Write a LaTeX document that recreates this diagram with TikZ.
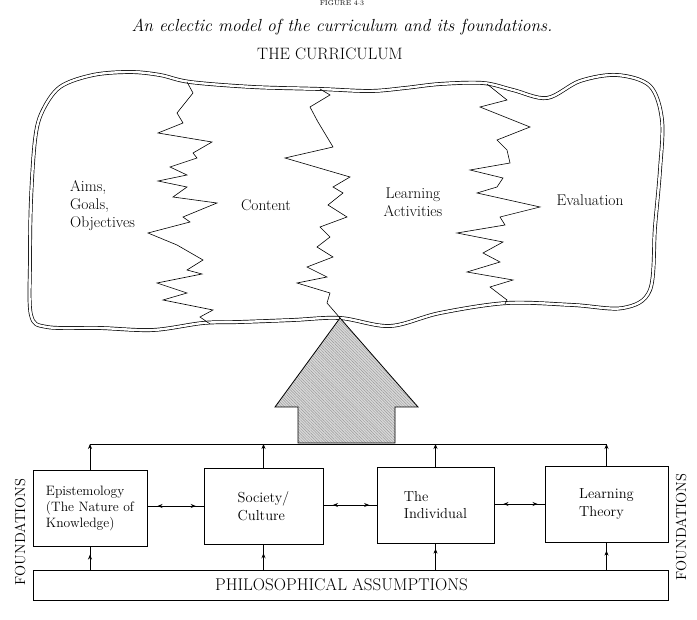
\documentclass[tikz,border=0pt]{standalone}
\usetikzlibrary{arrows.meta,decorations.markings,patterns.meta}
\begin{document}
\begin{tikzpicture}[x=1pt,y=-1pt,
  lbl/.style={font=\fontsize{15.5}{18}\selectfont, align=left, inner sep=0pt},
  fbox/.style={draw, line width=0.8pt, minimum height=76pt, inner sep=0pt, font=\fontsize{14.5}{17.5}\selectfont, align=left},
  conn/.style={line width=0.8pt},
  tip/.style={-{Stealth[length=5pt,width=4pt]}, line width=0.8pt},
  upmid/.style={line width=0.8pt, decoration={markings, mark=at position #1 with {\arrow{Stealth[length=5pt,width=4pt]}}}, postaction={decorate}},
  biarrow/.style={line width=0.8pt, decoration={markings,
      mark=at position 0.18 with {\arrowreversed{Stealth[length=5pt,width=4pt]}},
      mark=at position 0.86 with {\arrow{Stealth[length=5pt,width=4pt]}}}, postaction={decorate}},
  zig/.style={line width=0.6pt, line join=miter},
  cloudline/.style={draw, line width=0.7pt, double=white, double distance=2.4pt}
]
\useasboundingbox[fill=white] (0,0) rectangle (697,620);

% titles
\node[anchor=north, font=\fontsize{7}{8}\selectfont, inner sep=0.5pt] (fig) at (342,0) {FIGURE 4$\cdot$3};
\node[font=\fontsize{17.5}{20}\selectfont\itshape] (title) at (342,27) {An eclectic model of the curriculum and its foundations.};
\node[font=\fontsize{16.5}{18}\selectfont] (curr) at (330,54) {THE CURRICULUM};

% cloud
\draw[cloudline] plot[smooth cycle, tension=0.55] coordinates {
  (60,87) (93,75) (130,72) (160,75) (190,82) (253,87) (320,89) (370,91) (405,88) (440,84) (483,83)
  (513,90) (547,98) (580,81) (617,75) (650,86) (662,120) (660,170) (655,227)
  (650,290) (623,308) (573,305) (507,303) (440,313) (390,326) (340,318)
  (293,320) (240,322) (203,323) (153,330) (100,328) (47,327) (31,315)
  (30,260) (31,200) (35,140) (42,112)};

% zigzag dividers
\draw[zig] (187,82) -- (193,93) -- (177,113) -- (183,123) -- (158,133) -- (212,142)
  -- (193,153) -- (197,158) -- (170,167) -- (187,175) -- (158,181) -- (187,187)
  -- (173,197) -- (217,203) -- (183,217) -- (190,222) -- (148,233) -- (177,245)
  -- (203,260) -- (187,270) -- (202,274) -- (157,283) -- (187,293) -- (163,300)
  -- (213,310) -- (200,317) -- (210,324);
\draw[zig] (320,89) -- (330,95) -- (310,107) -- (318,122) -- (327,137) -- (333,147)
  -- (285,158) -- (350,177) -- (333,187) -- (343,193) -- (328,205) -- (347,217)
  -- (320,227) -- (330,237) -- (317,247) -- (333,257) -- (307,267) -- (327,277)
  -- (297,283) -- (330,293) -- (327,303) -- (340,318);
\draw[zig] (487,84) -- (507,100) -- (480,107) -- (530,127) -- (497,140) -- (507,150)
  -- (510,163) -- (470,170) -- (503,178) -- (497,187) -- (477,193) -- (540,207)
  -- (500,217) -- (505,225) -- (457,233) -- (503,242) -- (483,253) -- (500,262)
  -- (467,272) -- (513,280) -- (490,287) -- (507,300) -- (505,304);

% cloud labels
\node[lbl, anchor=north west] (aims) at (70,180) {Aims,\\Goals,\\Objectives};
\node[lbl] (content) at (266,205) {Content};
\node[lbl, align=center] (learn) at (413,202) {Learning\\Activities};
\node[lbl] (eval) at (590,200) {Evaluation};

% big arrow
\draw[line width=0.8pt, preaction={fill=gray!30},
      pattern={Lines[angle=-45,distance=2pt,line width=0.45pt]}, pattern color=gray!80]
  (340,318) -- (418,407) -- (395,407) -- (395,443) -- (298,443) -- (298,407) -- (275,407) -- cycle;

% foundation boxes
\node[fbox, minimum width=114pt, font=\fontsize{13.6}{16}\selectfont] (epi) at (90,508) {Epistemology\\(The Nature of\\Knowledge)};
\node[fbox, minimum width=119pt] (soc) at (263.5,506) {Society/\\Culture};
\node[fbox, minimum width=117pt] (ind) at (435.5,505) {The\\Individual};
\node[fbox, minimum width=123pt] (lt) at (606.5,504) {Learning\\Theory};
\node[draw, line width=0.8pt, minimum width=635pt, minimum height=30pt, inner sep=0pt,
      font=\fontsize{17}{19}\selectfont] (phil) at (350.5,585) {PHILOSOPHICAL ASSUMPTIONS\hspace*{18pt}};

% top collecting line
\coordinate (tl) at (epi.north |- 0,444);
\coordinate (tr) at (lt.north |- 0,444);
\draw[conn] (tl) -- (tr);
\draw[tip] (epi.north) -- (tl);
\draw[tip] (soc.north) -- (soc.north |- tl);
\draw[tip] (ind.north) -- (ind.north |- tl);
\draw[tip] (lt.north) -- (tr);

% from philosophical assumptions
\draw[upmid=0.65] (phil.north -| epi.south) -- (epi.south);
\draw[upmid=0.65] (phil.north -| soc.south) -- (soc.south);
\draw[upmid=0.8] (phil.north -| ind.south) -- (ind.south);
\draw[upmid=0.7] (phil.north -| lt.south) -- (lt.south);

% between boxes
\draw[biarrow] (epi.east |- 0,506) -- (soc.west |- 0,506);
\draw[biarrow] (soc.east |- 0,505) -- (ind.west |- 0,505);
\draw[biarrow] (ind.east |- 0,504) -- (lt.west |- 0,504);

% side labels
\node[rotate=90, font=\fontsize{14.5}{17}\selectfont] (fl) at (20,532) {FOUNDATIONS};
\node[rotate=90, font=\fontsize{14.5}{17}\selectfont] (fr) at (681,527) {FOUNDATIONS};
\end{tikzpicture}
\end{document}
